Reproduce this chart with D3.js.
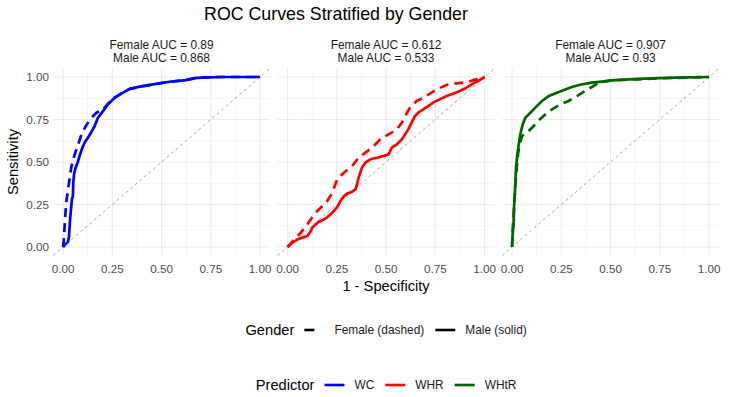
<!DOCTYPE html>
<html>
<head>
<meta charset="utf-8">
<script src="https://cdn.jsdelivr.net/npm/d3@7"></script>
<style>
  body { margin: 0; background: #fff; }
  text { font-family: "Liberation Sans", Arial, sans-serif; }
</style>
</head>
<body>
<svg id="chart" width="729" height="397"></svg>
<script>
// chart values
const predictors = ["WC", "WHR", "WHtR"];
const genders    = ["Female (dashed)", "Male (solid)"];
const aucFemale  = [0.89, 0.612, 0.907];
const aucMale    = [0.868, 0.533, 0.93];
const tickValues = [0, 0.25, 0.5, 0.75, 1];
const tickLabels = ["0.00", "0.25", "0.50", "0.75", "1.00"];

// [1 - specificity, sensitivity]
const wcFemale = [[0,0],[0.003,0.03],[0.008,0.12],[0.012,0.2],[0.017,0.27],[0.029,0.37],[0.042,0.47],
  [0.059,0.545],[0.076,0.6],[0.09,0.65],[0.101,0.68],[0.12,0.72],[0.144,0.76],[0.169,0.79],[0.2,0.805],
  [0.23,0.845],[0.262,0.878],[0.3,0.908],[0.34,0.93],[0.4,0.945],[0.46,0.957],[0.54,0.972],[0.62,0.982],
  [0.68,0.995],[0.8,1],[1,1]];
const wcMale = [[0,0],[0.015,0.02],[0.025,0.03],[0.03,0.06],[0.035,0.15],[0.04,0.22],[0.045,0.28],[0.05,0.3],
  [0.052,0.38],[0.055,0.42],[0.06,0.45],[0.065,0.47],[0.075,0.5],[0.085,0.54],[0.1,0.59],[0.11,0.615],
  [0.13,0.65],[0.15,0.69],[0.16,0.71],[0.177,0.76],[0.2,0.795],[0.228,0.84],[0.262,0.878],[0.3,0.905],
  [0.338,0.93],[0.39,0.943],[0.456,0.957],[0.54,0.972],[0.625,0.982],[0.676,0.995],[0.8,1],[1,1]];
const whrFemale = [[0,0],[0.034,0.045],[0.067,0.084],[0.101,0.133],[0.134,0.192],[0.168,0.231],[0.202,0.271],
  [0.227,0.32],[0.252,0.398],[0.286,0.437],[0.328,0.476],[0.361,0.525],[0.395,0.555],[0.429,0.584],
  [0.471,0.633],[0.513,0.663],[0.555,0.692],[0.58,0.731],[0.597,0.771],[0.622,0.82],[0.655,0.859],
  [0.689,0.878],[0.723,0.902],[0.756,0.927],[0.807,0.953],[0.857,0.963],[0.908,0.969],[0.958,0.986],[1,1]];
const whrMale = [[0,0],[0.025,0.025],[0.05,0.045],[0.076,0.055],[0.101,0.065],[0.118,0.094],[0.126,0.114],
  [0.143,0.133],[0.16,0.149],[0.185,0.163],[0.202,0.176],[0.218,0.192],[0.235,0.212],[0.252,0.235],
  [0.269,0.271],[0.286,0.3],[0.303,0.314],[0.328,0.325],[0.345,0.339],[0.353,0.369],[0.361,0.408],
  [0.378,0.467],[0.395,0.496],[0.42,0.516],[0.454,0.525],[0.487,0.535],[0.513,0.545],[0.529,0.584],
  [0.555,0.604],[0.58,0.633],[0.597,0.663],[0.613,0.692],[0.63,0.731],[0.647,0.771],[0.664,0.79],
  [0.689,0.81],[0.714,0.829],[0.739,0.849],[0.773,0.869],[0.807,0.888],[0.84,0.902],[0.874,0.918],
  [0.908,0.937],[0.941,0.961],[0.966,0.976],[1,1]];
const whtrFemale = [[0,0],[0.002,0.075],[0.007,0.173],[0.012,0.27],[0.017,0.369],[0.024,0.467],[0.03,0.545],
  [0.039,0.604],[0.051,0.653],[0.084,0.682],[0.11,0.712],[0.135,0.745],[0.16,0.771],[0.203,0.81],
  [0.245,0.839],[0.287,0.859],[0.329,0.888],[0.372,0.918],[0.405,0.941],[0.439,0.967],[0.507,0.98],
  [0.625,0.986],[0.794,0.994],[1,1]];
const whtrMale = [[0,0],[0.003,0.075],[0.008,0.133],[0.01,0.231],[0.014,0.31],[0.017,0.388],[0.02,0.467],
  [0.027,0.545],[0.034,0.604],[0.042,0.663],[0.054,0.722],[0.068,0.761],[0.093,0.79],[0.118,0.82],
  [0.152,0.859],[0.186,0.888],[0.228,0.908],[0.27,0.927],[0.304,0.941],[0.355,0.957],[0.405,0.967],
  [0.456,0.973],[0.507,0.98],[0.591,0.986],[0.709,0.992],[0.828,0.996],[1,1]];

const femaleCurves = [wcFemale, whrFemale, whtrFemale];
const maleCurves   = [wcMale, whrMale, whtrMale];

// styles / layout
const colors = ["#0000ff", "#ff0000", "#006400"];
const svg = d3.select("#chart");
const panelLeft = 53.2, panelTop = 68.5, panelW = 216.7, panelH = 187, gap = 7.8;

const x = d3.scaleLinear().domain([-0.05, 1.05]).range([0, panelW]);
const y = d3.scaleLinear().domain([-0.05, 1.05]).range([panelH, 0]);
const minor = [0.125, 0.375, 0.625, 0.875];

const line = d3.line().x(d => x(d[0])).y(d => y(d[1]));

predictors.forEach((p, i) => {
  const g = svg.append("g")
    .attr("transform", `translate(${panelLeft + i * (panelW + gap)},${panelTop})`);

  // grid
  g.selectAll(".minx").data(minor).enter().append("line")
    .attr("x1", d => x(d)).attr("x2", d => x(d)).attr("y1", 0).attr("y2", panelH)
    .attr("stroke", "#ebebeb").attr("stroke-width", 0.55);
  g.selectAll(".miny").data(minor).enter().append("line")
    .attr("y1", d => y(d)).attr("y2", d => y(d)).attr("x1", 0).attr("x2", panelW)
    .attr("stroke", "#ebebeb").attr("stroke-width", 0.55);
  g.selectAll(".majx").data(tickValues).enter().append("line")
    .attr("x1", d => x(d)).attr("x2", d => x(d)).attr("y1", 0).attr("y2", panelH)
    .attr("stroke", "#ebebeb").attr("stroke-width", 1.1);
  g.selectAll(".majy").data(tickValues).enter().append("line")
    .attr("y1", d => y(d)).attr("y2", d => y(d)).attr("x1", 0).attr("x2", panelW)
    .attr("stroke", "#ebebeb").attr("stroke-width", 1.1);

  // reference diagonal across the whole panel
  g.append("line")
    .attr("x1", x(-0.05)).attr("y1", y(-0.05)).attr("x2", x(1.05)).attr("y2", y(1.05))
    .attr("stroke", "#8f8f8f").attr("stroke-width", 0.8).attr("stroke-dasharray", "3,3");

  g.append("path").datum(femaleCurves[i]).attr("d", line)
    .attr("fill", "none").attr("stroke", colors[i]).attr("stroke-width", 2.7)
    .attr("stroke-dasharray", "9,6");
  g.append("path").datum(maleCurves[i]).attr("d", line)
    .attr("fill", "none").attr("stroke", colors[i]).attr("stroke-width", 2.7)
    .attr("stroke-linejoin", "round");

  // x tick labels
  g.selectAll(".xt").data(tickValues).enter().append("text")
    .attr("x", d => x(d)).attr("y", panelH + 17)
    .attr("text-anchor", "middle").attr("font-size", "11.7px").attr("fill", "#4d4d4d")
    .text((d, k) => tickLabels[k]);

  // strip labels
  g.append("text").attr("x", panelW / 2).attr("y", 49 - panelTop)
    .attr("text-anchor", "middle").attr("font-size", "11.9px").attr("fill", "#1a1a1a")
    .text(`Female AUC = ${aucFemale[i]}`);
  g.append("text").attr("x", panelW / 2).attr("y", 61.7 - panelTop)
    .attr("text-anchor", "middle").attr("font-size", "11.9px").attr("fill", "#1a1a1a")
    .text(`Male AUC = ${aucMale[i]}`);
});

// y tick labels (first panel only)
svg.selectAll(".yt").data(tickValues).enter().append("text")
  .attr("x", 49).attr("y", d => panelTop + y(d) + 4)
  .attr("text-anchor", "end").attr("font-size", "11.7px").attr("fill", "#4d4d4d")
  .text((d, k) => tickLabels[k]);

const plotCenter = panelLeft + (3 * panelW + 2 * gap) / 2;

// titles
svg.append("text").attr("x", 336).attr("y", 20).attr("text-anchor", "middle")
  .attr("font-size", "17.8px").attr("fill", "#000").text("ROC Curves Stratified by Gender");
svg.append("text").attr("x", plotCenter).attr("y", 291).attr("text-anchor", "middle")
  .attr("font-size", "14.7px").attr("fill", "#000").text("1 - Specificity");
svg.append("text").attr("transform", `translate(17.5,${panelTop + panelH / 2}) rotate(-90)`)
  .attr("text-anchor", "middle").attr("font-size", "14.7px").attr("fill", "#000").text("Sensitivity");

// legends: lay out items then centre the row
function legendRow(cy, title, labels, keyColors, keyDash) {
  const row = svg.append("g");
  let cx = 0;
  const t = row.append("text").attr("x", cx).attr("y", cy + 5)
    .attr("font-size", "14.7px").attr("fill", "#000").text(title);
  cx += t.node().getComputedTextLength() + 10;
  labels.forEach((lab, k) => {
    row.append("line").attr("x1", cx).attr("x2", cx + 20).attr("y1", cy).attr("y2", cy)
      .attr("stroke", keyColors[k]).attr("stroke-width", 2.6)
      .attr("stroke-dasharray", keyDash[k]);
    cx += 30;
    const lt = row.append("text").attr("x", cx).attr("y", cy + 4)
      .attr("font-size", "11.9px").attr("fill", "#1a1a1a").text(lab);
    cx += lt.node().getComputedTextLength();
    if (k < labels.length - 1) cx += 11;
  });
  row.attr("transform", `translate(${plotCenter - cx / 2},0)`);
}

legendRow(330, "Gender", genders, ["#000", "#000"], ["10,10", null]);
legendRow(385, "Predictor", predictors, colors, [null, null, null]);
</script>
</body>
</html>
